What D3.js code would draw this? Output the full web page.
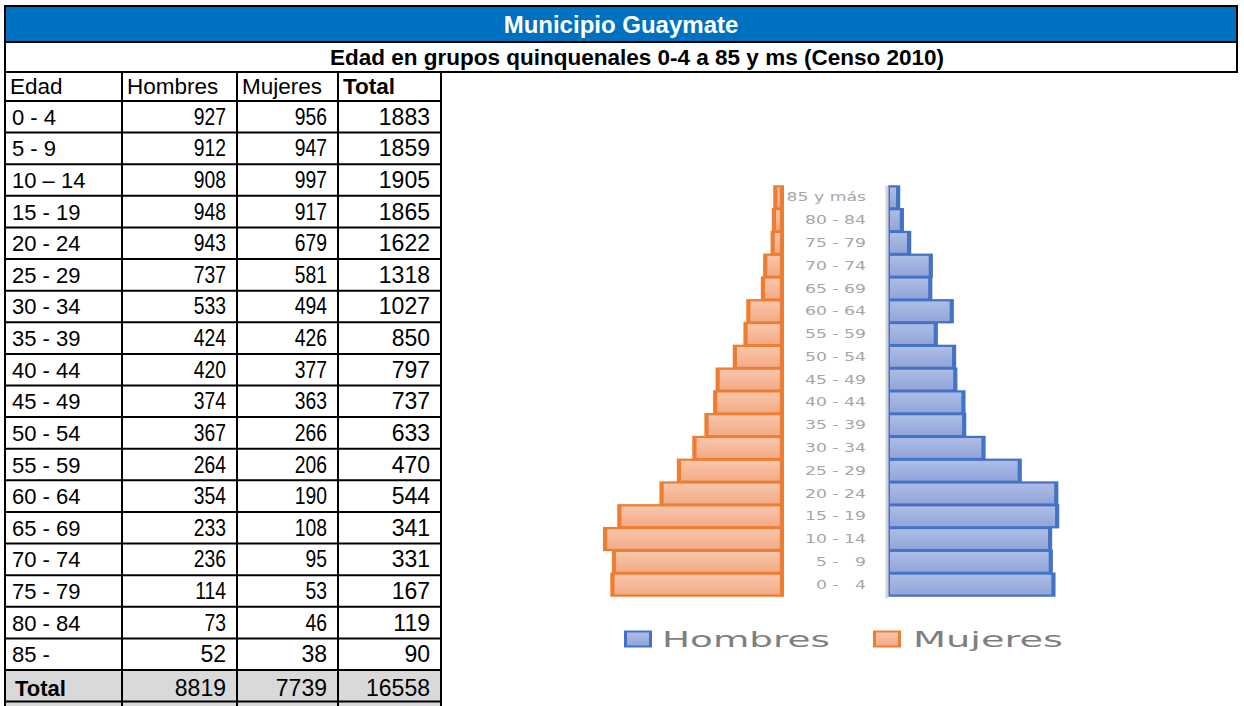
<!DOCTYPE html>
<html><head><meta charset="utf-8">
<script src="https://cdn.jsdelivr.net/npm/d3@7"></script>
<style>
html,body{margin:0;padding:0;background:#fff;}
svg{display:block;}
</style></head>
<body>
<svg id="c" width="1244" height="706"></svg>
<script>
// ---------- DATA ----------
const title = "Municipio Guaymate";
const subtitle = "Edad en grupos quinquenales 0-4 a 85 y ms (Censo 2010)";
const headers = ["Edad", "Hombres", "Mujeres", "Total"];
const ages = ["0 - 4","5 - 9","10 – 14","15 - 19","20 - 24","25 - 29","30 - 34","35 - 39","40 - 44","45 - 49","50 - 54","55 - 59","60 - 64","65 - 69","70 - 74","75 - 79","80 - 84","85 -"];
const hombres = [927,912,908,948,943,737,533,424,420,374,367,264,354,233,236,114,73,52];
const mujeres = [956,947,997,917,679,581,494,426,377,363,266,206,190,108,95,53,46,38];
const totals  = [1883,1859,1905,1865,1622,1318,1027,850,797,737,633,470,544,341,331,167,119,90];
const totalRow = ["Total", 8819, 7739, 16558];
const chartAges = ["0 - \u20074","5 - \u20079","10 - 14","15 - 19","20 - 24","25 - 29","30 - 34","35 - 39","40 - 44","45 - 49","50 - 54","55 - 59","60 - 64","65 - 69","70 - 74","75 - 79","80 - 84","85 y más"];
const legendLabels = ["Hombres", "Mujeres"];

// ---------- DRAW ----------
const svg = d3.select("#c");
const defs = svg.append("defs");
function grad(id, c1, c2){
  const g = defs.append("linearGradient").attr("id", id).attr("x1",0).attr("y1",0).attr("x2",0).attr("y2",1);
  g.append("stop").attr("offset","0%").attr("stop-color",c1);
  g.append("stop").attr("offset","100%").attr("stop-color",c2);
}
grad("gOr", "#f8c6ab", "#f3ab88");
grad("gBl", "#aebde6", "#92a5d9");

const AR = "'Liberation Sans', Arial, sans-serif";
const L = 5, R = 1237;
const colX = [5, 122, 237, 338, 441];
const yTop = 6, yBlueB = 42, ySubB = 72, yHeadB = 101, yBodyEnd = 670, yEnd = 706;
const rowY = d3.scaleLinear().domain([0, ages.length]).range([yHeadB, yBodyEnd]);
const PAD = 11;

// blue band
svg.append("rect").attr("x", L).attr("y", yTop).attr("width", R - L).attr("height", yBlueB - yTop).attr("fill", "#0070c0");
svg.append("text").attr("x", (L + R) / 2).attr("y", 32.5).attr("text-anchor", "middle")
  .attr("font-family", AR).attr("font-weight", "bold").attr("font-size", 24).attr("fill", "#fff").text(title);
svg.append("text").attr("x", (L + R) / 2 + 16).attr("y", 65).attr("text-anchor", "middle")
  .attr("font-family", AR).attr("font-weight", "bold").attr("font-size", 22.5).attr("fill", "#000").text(subtitle);

// total row fill
svg.append("rect").attr("x", colX[0]).attr("y", yBodyEnd).attr("width", colX[4] - colX[0]).attr("height", yEnd - yBodyEnd).attr("fill", "#d9d9d9");

// grid lines
const lines = svg.append("g").attr("stroke", "#000").attr("stroke-width", 2);
[yTop, yBlueB, ySubB].forEach(y => lines.append("line").attr("x1", L - 1).attr("x2", R + 1).attr("y1", y).attr("y2", y));
d3.range(ages.length + 2).forEach(i => {
  const y = rowY(i);
  lines.append("line").attr("x1", colX[0] - 1).attr("x2", colX[4] + 1).attr("y1", y).attr("y2", y);
});
lines.append("line").attr("x1", L).attr("x2", L).attr("y1", yTop).attr("y2", yEnd);
lines.append("line").attr("x1", R).attr("x2", R).attr("y1", yTop).attr("y2", ySubB);
colX.slice(1).forEach(x => lines.append("line").attr("x1", x).attr("x2", x).attr("y1", ySubB).attr("y2", yEnd));

// header row
const hy = (ySubB + yHeadB) / 2 + 7;
headers.forEach((h, i) => {
  svg.append("text").attr("x", colX[i] + 5).attr("y", hy)
    .attr("font-family", AR).attr("font-size", 22.5).attr("font-weight", i === 3 ? "bold" : "normal").text(h);
});

// body rows
ages.forEach((a, i) => {
  const cy = (rowY(i) + rowY(i + 1)) / 2 + 8;
  const last = i === ages.length - 1;
  svg.append("text").attr("x", colX[0] + 7).attr("y", cy).attr("font-family", AR).attr("font-size", 22).text(a);
  [hombres[i], mujeres[i]].forEach((v, k) => {
    const xr = colX[k + 2] - PAD;
    if (last) {
      svg.append("text").attr("x", xr).attr("y", cy).attr("text-anchor", "end")
        .attr("font-family", AR).attr("font-size", 23).text(v);
    } else {
      svg.append("text").attr("transform", `translate(${xr},${cy}) scale(0.84,1)`).attr("text-anchor", "end")
        .attr("font-family", AR).attr("font-size", 23).text(v);
    }
  });
  svg.append("text").attr("x", colX[4] - PAD).attr("y", cy).attr("text-anchor", "end")
    .attr("font-family", AR).attr("font-size", 23).text(totals[i]);
});
// total row
{
  const cy = (yBodyEnd + yEnd) / 2 + 8;
  svg.append("text").attr("x", colX[0] + 10).attr("y", cy).attr("font-family", AR).attr("font-size", 22).attr("font-weight", "bold").text(totalRow[0]);
  [1, 2, 3].forEach(k => svg.append("text").attr("x", colX[k + 1] - PAD).attr("y", cy).attr("text-anchor", "end")
    .attr("font-family", AR).attr("font-size", 23).text(totalRow[k]));
}

// ---------- PYRAMID ----------
const y = d3.scaleBand().domain(d3.range(chartAges.length).reverse()).range([186, 596]).padding(0);
const xF = d3.scaleLinear().domain([0, 1000]).range([782, 604.5]);
const xM = d3.scaleLinear().domain([0, 1000]).range([889, 1066.5]);
const ch = svg.append("g");
const sv = 1.5, sh = 2.2;
chartAges.forEach((lab, i) => {
  const y0 = y(i), h = y.bandwidth();
  // Mujeres (left, orange)
  const xl = xF(mujeres[i]);
  ch.append("rect").attr("x", xl - 2).attr("y", y0 - 0.75).attr("width", xF(0) + 2 - (xl - 2)).attr("height", h + 1.5).attr("fill", "#ed7d31");
  ch.append("rect").attr("x", xl + sh).attr("y", y0 + sv).attr("width", xF(0) - sh - (xl + sh)).attr("height", h - 2 * sv).attr("fill", "url(#gOr)");
  // Hombres (right, blue)
  const xr = xM(hombres[i]);
  ch.append("rect").attr("x", xM(0) - 1).attr("y", y0 - 0.75).attr("width", xr + 2 - (xM(0) - 1)).attr("height", h + 1.5).attr("fill", "#4472c4");
  ch.append("rect").attr("x", xM(0) + 1).attr("y", y0 + sv).attr("width", xr - sh - (xM(0) + 1)).attr("height", h - 2 * sv).attr("fill", "url(#gBl)");
  // label
  ch.append("text").attr("transform", `translate(866,${y0 + h / 2 + 4}) scale(1.5,1)`).attr("text-anchor", "end")
    .attr("font-family", "'DejaVu Sans', sans-serif").attr("font-size", 11.5).attr("fill", "#a6a6a6").text(lab);
});
// vertical axis line
ch.append("line").attr("x1", 887).attr("x2", 887).attr("y1", 186).attr("y2", 598).attr("stroke", "#d4d4d4").attr("stroke-width", 3);

// legend
const lg = svg.append("g");
const legendDefs = [
  {x: 624, tx: 662, tw: 168, stroke: "#4472c4", fill: "url(#gBl)"},
  {x: 873, tx: 913, tw: 150, stroke: "#ed7d31", fill: "url(#gOr)"}
];
legendDefs.forEach((d, i) => {
  lg.append("rect").attr("x", d.x).attr("y", 630.5).attr("width", 28).attr("height", 17).attr("fill", d.stroke);
  lg.append("rect").attr("x", d.x + 3).attr("y", 632.5).attr("width", 22).attr("height", 13).attr("fill", d.fill);
  lg.append("text").attr("x", d.tx).attr("y", 647).attr("font-family", "'DejaVu Sans', sans-serif").attr("font-size", 21)
    .attr("fill", "#7f7f7f").attr("textLength", d.tw).attr("lengthAdjust", "spacingAndGlyphs").text(legendLabels[i]);
});
</script>
</body></html>
